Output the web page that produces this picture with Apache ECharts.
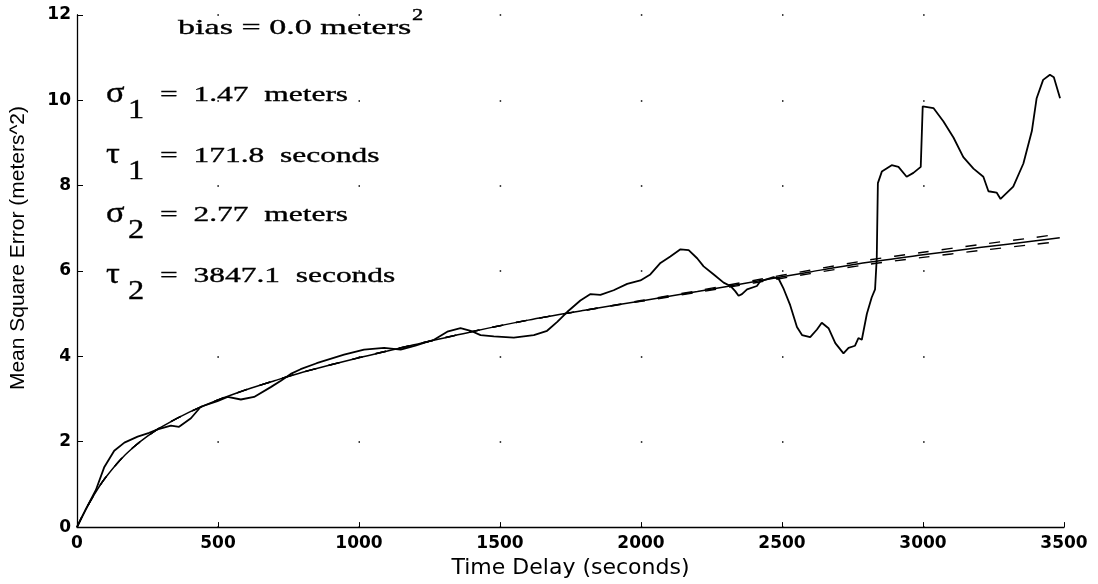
<!DOCTYPE html>
<html><head><meta charset="utf-8">
<script src="https://cdn.jsdelivr.net/npm/echarts@6/dist/echarts.min.js"></script>
<style>html,body{margin:0;padding:0;background:#fff}#c{width:1098px;height:584px}</style>
</head><body><div id="c"></div>
<script>
// ---- data ----
const xAxisTicks = [0, 500, 1000, 1500, 2000, 2500, 3000, 3500];
const yAxisTicks = [0, 2, 4, 6, 8, 10, 12];

// empirical mean square error curve
const empX = [0,30,67,97,132,168,215,256,286,333,362,404,439,498,534,581,628,687,723,758,793,850,947,1018,1089,1148,1200,1266,1313,1360,1396,1431,1478,1549,1620,1667,1703,1738,1785,1821,1856,1903,1951,1998,2033,2069,2104,2140,2169,2199,2222,2258,2293,2317,2334,2346,2358,2376,2411,2423,2470,2488,2506,2529,2553,2571,2600,2624,2641,2665,2689,2718,2736,2759,2771,2783,2801,2818,2830,2836,2840,2854,2889,2913,2942,2966,2992,2999,3037,3072,3108,3143,3179,3214,3232,3261,3275,3320,3356,3386,3403,3426,3450,3464,3486];
const empY = [0,0.40,0.87,1.41,1.79,1.98,2.12,2.21,2.29,2.38,2.35,2.55,2.82,2.95,3.05,2.99,3.05,3.28,3.43,3.59,3.70,3.84,4.04,4.16,4.20,4.16,4.25,4.39,4.58,4.66,4.60,4.50,4.47,4.44,4.50,4.60,4.81,5.04,5.31,5.46,5.44,5.55,5.70,5.78,5.92,6.19,6.34,6.51,6.49,6.30,6.11,5.92,5.73,5.65,5.53,5.42,5.46,5.57,5.65,5.76,5.86,5.82,5.58,5.20,4.69,4.50,4.45,4.63,4.79,4.66,4.31,4.07,4.20,4.25,4.43,4.39,5.00,5.38,5.57,6.30,8.06,8.33,8.48,8.44,8.21,8.30,8.44,9.86,9.82,9.51,9.13,8.67,8.40,8.21,7.87,7.84,7.69,7.98,8.52,9.28,10.05,10.48,10.60,10.54,10.05];

// fitted model and its bounds
const modelX = [0,25,50,75,100,150,200,250,300,400,500,600,700,800,1000,1200,1400,1600,1800,2000,2200,2400,2600,2800,3000,3200,3400,3485];
const modelY = [0,0.34,0.64,0.91,1.15,1.55,1.87,2.13,2.35,2.70,2.98,3.22,3.43,3.63,3.97,4.28,4.58,4.85,5.08,5.30,5.52,5.75,5.98,6.20,6.38,6.55,6.71,6.78];
const upperY = [0,0.34,0.64,0.91,1.15,1.55,1.87,2.13,2.35,2.70,2.98,3.22,3.43,3.63,3.97,4.28,4.58,4.85,5.08,5.31,5.54,5.78,6.02,6.25,6.44,6.62,6.79,6.87];
const lowerY = [0,0.34,0.64,0.91,1.15,1.55,1.87,2.13,2.35,2.70,2.98,3.22,3.43,3.63,3.97,4.28,4.58,4.85,5.08,5.29,5.50,5.72,5.94,6.15,6.32,6.48,6.63,6.69];

// annotation texts
const biasText = 'bias = 0.0 meters';
const paramSymbols = ['σ', 'τ', 'σ', 'τ'];
const paramSubs = ['1', '1', '2', '2'];
const paramTexts = ['=  1.47  meters', '=  171.8  seconds', '=  2.77  meters', '=  3847.1  seconds'];

// ---- layout ----
const W = 1098, H = 584;
const GL = 76, GR = 34, GT = 15, GB = 46;
const gw = W - GL - GR;
const periodX = gw / (xAxisTicks.length - 1);

const zip = (xs, ys) => xs.map((x, i) => [x, ys[i]]);

const chart = echarts.init(document.getElementById('c'), null, {renderer: 'canvas'});

const tickFont = {color: '#000', fontFamily: 'DejaVu Sans', fontSize: 17, fontWeight: 'bold'};
const serif = 'Liberation Serif';
const ink = {fill: '#000', stroke: '#000', lineWidth: 0.35};

const graphics = [];
graphics.push({type: 'text', x: 178, y: 28, scaleX: 1.55,
  style: Object.assign({text: biasText, x: 0, y: 0, verticalAlign: 'middle', font: '22px "' + serif + '"'}, ink)});
graphics.push({type: 'text', x: 412, y: 16, scaleX: 1.4,
  style: Object.assign({text: '2', x: 0, y: 0, verticalAlign: 'middle', font: '16px "' + serif + '"'}, ink)});
const baselines = [102, 163, 222, 283];
baselines.forEach((b, i) => {
  graphics.push({type: 'text', x: 106, y: b - 8, scaleX: 1.15,
    style: Object.assign({text: paramSymbols[i], x: 0, y: 0, verticalAlign: 'middle', font: '30px "' + serif + '"'}, ink)});
  graphics.push({type: 'text', x: 128, y: b + 9, scaleX: 1.2,
    style: Object.assign({text: paramSubs[i], x: 0, y: 0, verticalAlign: 'middle', font: '27px "' + serif + '"'}, ink)});
  graphics.push({type: 'text', x: 160, y: b - 7, scaleX: 1.43,
    style: Object.assign({text: paramTexts[i], x: 0, y: 0, verticalAlign: 'middle', font: '22px "' + serif + '"'}, ink)});
});

chart.setOption({
  animation: false,
  backgroundColor: '#fff',
  grid: {left: GL, right: GR, top: GT, bottom: GB, containLabel: false},
  xAxis: {
    type: 'value', min: 0, max: 3500, interval: 500,
    name: 'Time Delay (seconds)', nameLocation: 'middle', nameGap: 23,
    nameTextStyle: {color: '#000', fontFamily: 'DejaVu Sans', fontSize: 22},
    axisLine: {show: true, lineStyle: {color: '#000', width: 1.3}},
    axisTick: {show: true, inside: true, length: 5, lineStyle: {color: '#000'}},
    axisLabel: Object.assign({margin: 8, formatter: v => String(v)}, tickFont),
    splitLine: {show: false}
  },
  yAxis: {
    type: 'value', min: 0, max: 12, interval: 2,
    name: 'Mean Square Error (meters^2)', nameLocation: 'middle', nameGap: 48,
    nameTextStyle: {color: '#000', fontFamily: 'Liberation Sans', fontSize: 21, padding: [0, 0, 0, 46]},
    axisLine: {show: true, lineStyle: {color: '#000', width: 1.3}},
    axisTick: {show: true, inside: true, length: 6, lineStyle: {color: '#000'}},
    axisLabel: Object.assign({margin: 6, formatter: v => String(v)}, tickFont),
    splitLine: {show: true, lineStyle: {color: '#000', width: 1.5, type: [1.5, periodX - 1.5], dashOffset: 0.75}}
  },
  series: [
    {type: 'line', name: 'empirical', data: zip(empX, empY), showSymbol: false, symbol: 'none',
     lineStyle: {color: '#000', width: 1.8}, z: 5},
    {type: 'line', name: 'model', data: zip(modelX, modelY), showSymbol: false, symbol: 'none', smooth: 0.3,
     lineStyle: {color: '#000', width: 1.5}, z: 4},
    {type: 'line', name: 'upper', data: zip(modelX, upperY), showSymbol: false, symbol: 'none', smooth: 0.3,
     lineStyle: {color: '#000', width: 1.4, type: [11, 13]}, z: 3},
    {type: 'line', name: 'lower', data: zip(modelX, lowerY), showSymbol: false, symbol: 'none', smooth: 0.3,
     lineStyle: {color: '#000', width: 1.4, type: [11, 13]}, z: 3}
  ],
  graphic: graphics
});
</script></body></html>
